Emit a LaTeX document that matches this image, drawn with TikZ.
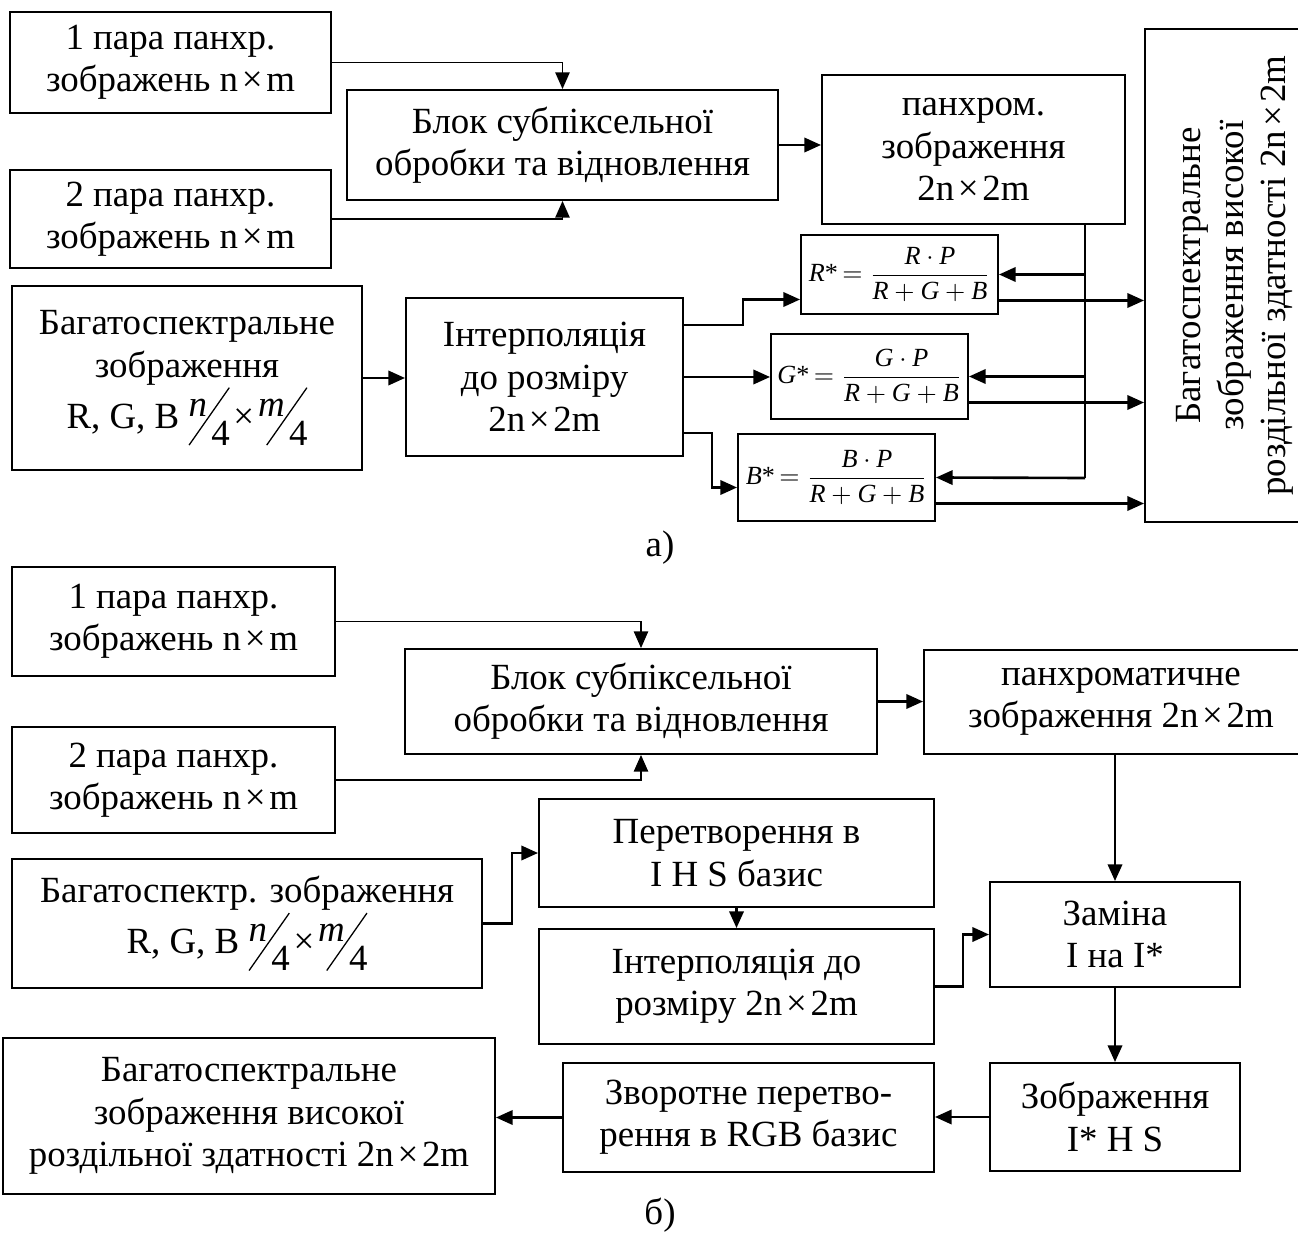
\documentclass[tikz,border=0pt]{standalone}
\usepackage{amsmath}
\usepackage{graphicx}
\usepackage{fontspec}
\setmainfont{Liberation Serif}
\usetikzlibrary{arrows.meta, positioning, calc}

\newlength\px
\setlength\px{0.42pt}
% skewed fraction n/4 as in the scan
\newcommand\slfrac[2]{\raisebox{0.32em}{\textit{#1}}\kern-0.5em\raisebox{-0.47em}{\rotatebox{55}{\rule{1.9em}{0.035em}}}\kern-0.5em\raisebox{-0.47em}{#2}}
\newcommand\tm{\kern0.1em×\kern0.1em}

\begin{document}
\begin{tikzpicture}[
    x=0.42pt, y=-0.42pt, % one unit is one pixel of the scan
    ->,
    >={Triangle[length=7pt,width=6pt]},
    every node/.style={font={\fontsize{15.5pt}{17.8pt}\selectfont}},
    box/.style={draw, -, line width=0.8pt, align=center, inner sep=1pt},
    frm/.style={box, font={\fontsize{11pt}{13pt}\selectfont}},
    link/.style={line width=1.1pt},
    thin/.style={line width=0.7pt}
  ]

  \path[use as bounding box, -] (0,0) rectangle (1298,1233);

  % a)
  \node[box, minimum width=321\px, minimum height=101\px] (a1) at (170.5,62.5) {1 пара панхр.\\зображень n\tm m};
  \node[box, minimum width=321\px, minimum height=98\px] (a2) at (170.5,219) {2 пара панхр.\\зображень n\tm m};
  \node[box, minimum width=431\px, minimum height=110\px] (a3) at (562.5,145) {Блок субпіксельної\\обробки та відновлення};
  \node[box, minimum width=303\px, minimum height=149\px] (a4) at (973.5,149.5) {панхром.\\зображення\\2n\tm 2m};
  \node[box, minimum width=350\px, minimum height=184\px] (a5) at (187,378) {Багатоспектральне\\зображення\\R, G, B \slfrac{n}{4}\tm\slfrac{m}{4}};
  \node[box, minimum width=277\px, minimum height=158\px] (a6) at (544.5,377) {Інтерполяція\\до розміру\\2n\tm 2m};
  \node[frm, minimum width=197\px, minimum height=79\px] (a7) at (899.5,274.5) {\textit{R}*$\,=\dfrac{\textit{R}\cdot\textit{P}}{\textit{R}+\textit{G}+\textit{B}}$};
  \node[frm, minimum width=197\px, minimum height=85\px] (a8) at (869.5,376.5) {\textit{G}*$\,=\dfrac{\textit{G}\cdot\textit{P}}{\textit{R}+\textit{G}+\textit{B}}$};
  \node[frm, minimum width=197\px, minimum height=87\px] (a9) at (836.5,477.5) {\textit{B}*$\,=\dfrac{\textit{B}\cdot\textit{P}}{\textit{R}+\textit{G}+\textit{B}}$};
  % rotated: its north anchor is the left side
  \node[box, rotate=90, minimum width=493\px, minimum height=180\px] (a10) at (1235,275.5) {Багатоспектральне\\зображення високої\\роздільної здатності 2n\tm 2m};
  \node (capa) at (660,548) {а)};

  \draw[thin] (a1.east) -| (a3.north);
  \draw[thin] (a2.east) -| (a3.south);
  \draw[link] (a3.east) -- (a3.east -| a4.west);
  \draw[link] (a5.east) -- (a5.east -| a6.west);
  \draw[link] ([yshift=52\px]a6.east) -- ++(59,0) |- ([yshift=-25\px]a7.west);
  \draw[link] (a6.east) -- (a6.east -| a8.west);
  \draw[link] ([yshift=-56\px]a6.east) -- ++(28,0) |- ([yshift=-10\px]a9.west);

  \coordinate (bus) at (1085,478);
  \draw[link, -] (a4.south -| bus) -- (bus);
  \draw[link] (a7.east -| bus) -- (a7.east);
  \draw[link] (a8.east -| bus) -- (a8.east);
  \draw[link] (bus) -- (a9.east);
  \draw[link] ([yshift=-26\px]a7.east) -- ([yshift=-26\px]a7.east -| a10.north);
  \draw[link] ([yshift=-26\px]a8.east) -- ([yshift=-26\px]a8.east -| a10.north);
  \draw[link] ([yshift=-26\px]a9.east) -- ([yshift=-26\px]a9.east -| a10.north);

  % b)
  \node[box, minimum width=323\px, minimum height=109\px] (b1) at (173.5,621.5) {1 пара панхр.\\зображень n\tm m};
  \node[box, minimum width=323\px, minimum height=106\px] (b2) at (173.5,780) {2 пара панхр.\\зображень n\tm m};
  \node[box, minimum width=472\px, minimum height=105\px] (b3) at (641,701.5) {Блок субпіксельної\\обробки та відновлення};
  \node[box, minimum width=394\px, minimum height=104\px] (b4) at (1121,702) {панхроматичне\\зображення 2n\tm 2m};
  \node[box, minimum width=470\px, minimum height=129\px] (b5) at (247,923.5) {Багатоспектр. зображення\\R, G, B \slfrac{n}{4}\tm\slfrac{m}{4}};
  \node[box, minimum width=395\px, minimum height=108\px] (b6) at (736.5,853) {Перетворення в\\I H S базис};
  \node[box, minimum width=395\px, minimum height=115\px] (b7) at (736.5,986.5) {Інтерполяція до\\розміру 2n\tm 2m};
  \node[box, minimum width=250\px, minimum height=105\px] (b8) at (1115,934.5) {Заміна\\I на I*};
  \node[box, minimum width=250\px, minimum height=108\px] (b9) at (1115,1117) {Зображення\\I* H S};
  \node[box, minimum width=371\px, minimum height=109\px] (b10) at (748.5,1117.5) {Зворотне перетво-\\рення в RGB базис};
  \node[box, minimum width=492\px, minimum height=156\px] (b11) at (249,1116) {Багатоспектральне\\зображення високої\\роздільної здатності 2n\tm 2m};
  \node (capb) at (660,1215) {б)};

  \draw[thin] (b1.east) -| (b3.north);
  \draw[thin] (b2.east) -| (b3.south);
  \draw[link] (b3.east) -- (b3.east -| b4.west);
  \draw[link] (b8.north |- b4.south) -- (b8.north);
  \draw[link] (b5.east) -- ++(29,0) |- (b6.west);
  \draw[link] (b6.south) -- (b7.north);
  \draw[link] (b7.east) -- ++(28,0) |- (b8.west);
  \draw[link] (b8.south) -- (b9.north);
  \draw[link] (b9.west) -- (b9.west -| b10.east);
  \draw[link] (b10.west) -- (b10.west -| b11.east);

\end{tikzpicture}
\end{document}
